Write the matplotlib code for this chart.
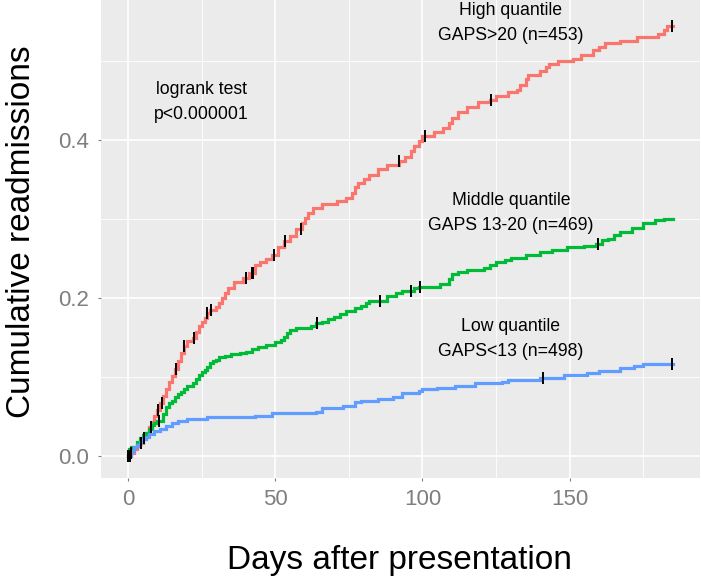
import numpy as np
import matplotlib
matplotlib.use('Agg')
import matplotlib.pyplot as plt
from matplotlib.ticker import MultipleLocator

plt.rcParams['font.family'] = ['Liberation Sans', 'DejaVu Sans']

# Kaplan-Meier style cumulative readmission curves
high_days = [0, 1, 2, 3, 4, 5, 6, 7, 8, 9, 10, 11, 12, 13, 14, 15, 16, 17, 18, 19, 20, 22, 23, 24, 25, 26,
             27, 28, 30, 31, 32, 33, 34, 36, 39, 41, 43, 45, 47, 49, 51, 53, 55, 57, 59, 60, 61, 63, 66, 71,
             74, 76, 77, 78, 80, 82, 85, 88, 92, 94, 96, 97, 99, 100, 104, 107, 109, 110, 112, 115, 119,
             123, 125, 129, 132, 133, 135, 136, 140, 142, 143, 146, 151, 154, 158, 160, 162, 167, 173,
             180, 182, 183, 185]
high_vals = [0, 0.003, 0.008, 0.012, 0.016, 0.022, 0.029, 0.036, 0.043, 0.051, 0.058, 0.067, 0.076, 0.084,
             0.093, 0.101, 0.110, 0.120, 0.130, 0.139, 0.146, 0.149, 0.157, 0.164, 0.170, 0.175, 0.181,
             0.185, 0.189, 0.194, 0.200, 0.206, 0.213, 0.220, 0.225, 0.232, 0.242, 0.246, 0.249, 0.254,
             0.264, 0.272, 0.279, 0.287, 0.295, 0.301, 0.307, 0.314, 0.319, 0.323, 0.326, 0.333, 0.340,
             0.346, 0.351, 0.356, 0.363, 0.368, 0.373, 0.379, 0.386, 0.392, 0.399, 0.405, 0.410, 0.415,
             0.422, 0.428, 0.435, 0.442, 0.448, 0.451, 0.456, 0.461, 0.464, 0.470, 0.477, 0.482, 0.487,
             0.493, 0.497, 0.500, 0.503, 0.508, 0.514, 0.518, 0.523, 0.526, 0.531, 0.534, 0.539, 0.544,
             0.544]
high_censor = [0, 0.4, 0.8, 1.2, 4.5, 5.4, 7.9, 10.1, 11.5, 16.3, 19.1, 22.5, 27.0, 28.2, 40.2, 42.0,
               42.6, 49.5, 53.5, 58.9, 92.1, 100.8, 123.3, 184.6]

mid_days = [0, 0.5, 1, 3, 4, 5, 6, 7, 8, 9, 10, 12, 13, 14, 15, 16, 17, 18, 19, 20, 22, 23, 24, 25, 26,
            27, 28, 29, 30, 31, 33, 35, 38, 40, 42, 44, 47, 50, 52, 53, 54, 55, 57, 62, 64, 66, 68, 70,
            72, 74, 77, 79, 81, 82, 88, 91, 93, 97, 99, 106, 109, 110, 112, 115, 121, 123, 125, 128,
            130, 135, 140, 144, 149, 155, 159, 161, 163, 165, 167, 171, 175, 179, 182, 185]
mid_vals = [0, 0.008, 0.011, 0.018, 0.023, 0.026, 0.029, 0.034, 0.039, 0.042, 0.044, 0.053, 0.062,
            0.067, 0.070, 0.074, 0.078, 0.081, 0.085, 0.088, 0.092, 0.097, 0.102, 0.106, 0.109, 0.113,
            0.117, 0.120, 0.122, 0.125, 0.127, 0.129, 0.130, 0.132, 0.135, 0.138, 0.141, 0.144, 0.147,
            0.151, 0.155, 0.159, 0.162, 0.165, 0.168, 0.170, 0.173, 0.176, 0.180, 0.183, 0.187, 0.190,
            0.194, 0.196, 0.203, 0.206, 0.209, 0.212, 0.214, 0.218, 0.224, 0.230, 0.233, 0.236, 0.238,
            0.242, 0.245, 0.248, 0.251, 0.255, 0.258, 0.261, 0.265, 0.266, 0.268, 0.273, 0.275, 0.280,
            0.283, 0.289, 0.295, 0.299, 0.300, 0.300]
mid_censor = [0, 0.4, 10.4, 64.2, 85.6, 96.1, 99.2, 159.5]

low_days = [0, 1, 2, 3, 4, 5, 6, 7, 9, 11, 13, 15, 17, 20, 27, 43, 49, 64, 66, 73, 77, 79, 85, 90, 93,
            99, 100, 105, 111, 118, 127, 129, 140, 148, 156, 160, 167, 172, 175, 185]
low_vals = [0, 0.006, 0.011, 0.014, 0.018, 0.021, 0.024, 0.027, 0.031, 0.034, 0.038, 0.042, 0.044,
            0.046, 0.049, 0.051, 0.054, 0.056, 0.060, 0.063, 0.068, 0.070, 0.072, 0.075, 0.079, 0.082,
            0.085, 0.086, 0.089, 0.092, 0.094, 0.096, 0.099, 0.103, 0.105, 0.107, 0.111, 0.114, 0.116,
            0.116]
low_censor = [0, 0.4, 140.8, 184.6]

groups = [
    ('High', high_days, high_vals, high_censor, '#F8766D'),
    ('Middle', mid_days, mid_vals, mid_censor, '#00BA38'),
    ('Low', low_days, low_vals, low_censor, '#619CFF'),
]

# Annotations: (x, y, text)
labels = [
    (130, 0.5646, 'High quantile'),
    (130, 0.533, 'GAPS>20 (n=453)'),
    (130, 0.324, 'Middle quantile'),
    (130, 0.292, 'GAPS 13-20 (n=469)'),
    (130, 0.1637, 'Low quantile'),
    (130, 0.132, 'GAPS<13 (n=498)'),
    (25, 0.464, 'logrank test'),
    (25, 0.4325, 'p<0.000001'),
]


def step_value(days, vals, t):
    # value of the step curve at time t
    idx = np.searchsorted(days, t, side='right') - 1
    return np.array(vals)[np.clip(idx, 0, len(vals) - 1)]


fig = plt.figure(figsize=(7.01, 5.83), dpi=100)
ax = fig.add_axes([100.7 / 701, 105.5 / 583, 599.3 / 701, 477.5 / 583])
ax.set_facecolor('#EBEBEB')

for name, days, vals, censor, color in groups:
    ax.plot(days, vals, drawstyle='steps-post', color=color, lw=2.3, zorder=3,
            solid_joinstyle='miter')
    cy = step_value(days, vals, censor)
    ax.plot(censor, cy, linestyle='none', marker='|', markersize=9, mew=1.4,
            color='black', zorder=4)

for x, y, txt in labels:
    ax.text(x, y, txt, ha='center', va='center', fontsize=12.7, color='black', zorder=5)

ax.set_xlim(-9.25, 194.25)
ax.set_ylim(-0.0275, 0.5775)
ax.xaxis.set_major_locator(MultipleLocator(50))
ax.xaxis.set_minor_locator(MultipleLocator(25))
ax.yaxis.set_major_locator(MultipleLocator(0.2))
ax.yaxis.set_minor_locator(MultipleLocator(0.1))
ax.yaxis.set_major_formatter(plt.FuncFormatter(lambda v, p: f'{v:.1f}'))

ax.grid(which='major', color='white', lw=1.2, zorder=0)
ax.grid(which='minor', color='white', lw=0.6, zorder=0)
ax.set_axisbelow(True)
for s in ax.spines.values():
    s.set_visible(False)

ax.tick_params(which='major', length=2.5, width=0.8, color='#7f7f7f',
               labelcolor='#7f7f7f', labelsize=16, pad=6)
ax.tick_params(which='minor', length=0)

fig.text(22 / 701, 1 - 232 / 583, 'Cumulative readmissions', rotation=90,
         ha='center', va='center', fontsize=24, color='black')
fig.text(399 / 701, 1 - 560 / 583, 'Days after presentation',
         ha='center', va='center', fontsize=24, color='black')

fig.savefig('out.png', dpi=100)
